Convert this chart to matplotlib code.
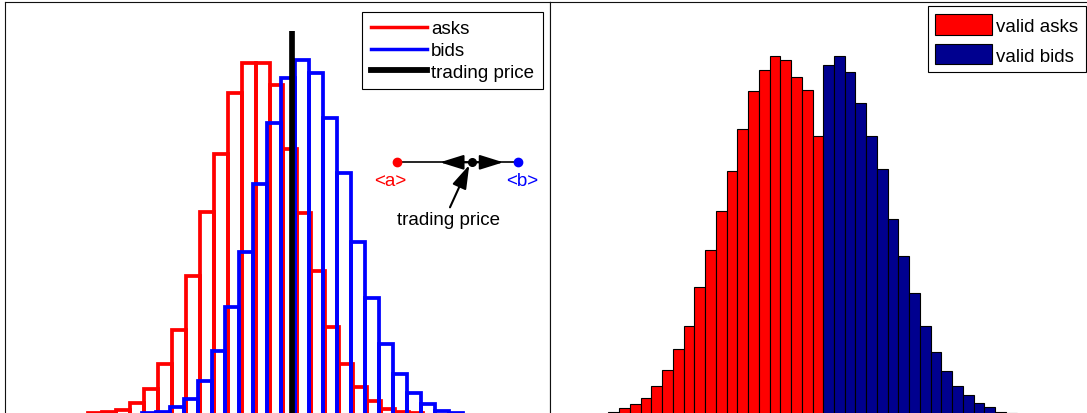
import numpy as np
import matplotlib
matplotlib.use("Agg")
import matplotlib.pyplot as plt
from matplotlib.lines import Line2D
from matplotlib.patches import Patch

plt.rcParams['font.family'] = ['Liberation Sans', 'DejaVu Sans']

# left panel: all asks / bids (bin width 1, counts)
ask_start = 6.0
ask_counts = [3, 4, 6, 13, 27, 52, 86, 140, 204, 262, 323, 353,
              353, 331, 267, 203, 145, 89, 52, 29, 15, 7, 4, 3]
bid_start = 9.84
bid_counts = [3, 4, 9, 17, 35, 65, 109, 164, 232, 293, 338, 356,
              343, 298, 243, 174, 118, 72, 42, 23, 12, 5, 3, 2]
trading_price = 20.61
price_line_top = 385

# right panel: valid asks / bids
valid_start = 5.49
valid_ask_counts = [4, 8, 12, 18, 30, 46, 67, 90, 129, 166, 205, 245,
                    287, 325, 346, 360, 356, 339, 326, 280]
valid_bid_counts = [351, 360, 344, 313, 280, 247, 197, 160, 123, 90,
                    64, 45, 30, 21, 13, 9, 4, 3]

YTOP = 414.8
FS = 13.5
NAVY = '#00008F'

fig = plt.figure(figsize=(10.87, 4.14), dpi=100)
ax1 = fig.add_axes([0.00414, -0.00845, 0.50138, 1.00193])
ax2 = fig.add_axes([0.50552, -0.00845, 0.50230, 1.00193])

for ax in (ax1, ax2):
    ax.set_xticks([])
    ax.set_yticks([])
    for s in ax.spines.values():
        s.set_linewidth(0.8)
        s.set_color('#111111')
    ax.set_ylim(0, YTOP)

# ---- left
xa = ask_start + np.arange(len(ask_counts))
xb = bid_start + np.arange(len(bid_counts))
ax1.bar(xa, ask_counts, width=1.0, align='edge', fill=False,
        edgecolor='#ff0000', linewidth=2.7, joinstyle='miter')
ax1.bar(xb, bid_counts, width=1.0, align='edge', fill=False,
        edgecolor='#0000ff', linewidth=2.7, joinstyle='miter')
ax1.plot([trading_price, trading_price], [0, price_line_top],
         color='k', linewidth=4.1, solid_capstyle='butt')
ax1.set_xlim(0, 39.07)

handles = [Line2D([], [], color='#ff0000', lw=2.5),
           Line2D([], [], color='#0000ff', lw=2.5),
           Line2D([], [], color='k', lw=4.2)]
leg = ax1.legend(handles, ['asks', 'bids', 'trading price'],
                 loc='upper right', bbox_to_anchor=(0.9875, 0.9759),
                 borderaxespad=0, fontsize=FS, fancybox=False,
                 framealpha=1, edgecolor='k', handlelength=2.99,
                 handletextpad=0.25, labelspacing=0.25, borderpad=0.45)
leg.get_frame().set_linewidth(0.8)

# small sketch: ask, bid and trading price between them
T = ax1.transAxes
ax1.plot([0.7196, 0.9417], [0.6128, 0.6128], color='k', lw=1.2, transform=T)
ax1.plot([0.7196], [0.6128], 'o', color='#ff0000', ms=6, transform=T)
ax1.plot([0.9417], [0.6128], 'o', color='#0000ff', ms=6, transform=T)
ax1.plot([0.8572], [0.6143], 'o', color='k', ms=5.5, transform=T)
arr = dict(arrowstyle='-|>,head_length=0.8,head_width=0.25', color='k',
           lw=1.5, shrinkA=0, shrinkB=0, mutation_scale=18)
ax1.annotate('', xy=(0.7991, 0.6128), xytext=(0.8572, 0.6128),
             xycoords=T, textcoords=T, arrowprops=arr)
ax1.annotate('', xy=(0.9152, 0.6128), xytext=(0.8572, 0.6128),
             xycoords=T, textcoords=T, arrowprops=arr)
ax1.annotate('', xy=(0.8528, 0.6063), xytext=(0.8174, 0.5043),
             xycoords=T, textcoords=T, arrowprops=arr)
ax1.text(0.7086, 0.5685, '<a>', color='#ff0000', fontsize=FS,
         ha='center', va='center', transform=T)
ax1.text(0.9490, 0.5685, '<b>', color='#0000ff', fontsize=FS,
         ha='center', va='center', transform=T)
ax1.text(0.8143, 0.4761, 'trading price', color='k', fontsize=FS,
         ha='center', va='center', transform=T)

# ---- right
xva = valid_start + np.arange(len(valid_ask_counts))
xvb = xva[-1] + 1 + np.arange(len(valid_bid_counts))
ax2.bar(xva, valid_ask_counts, width=1.0, align='edge', color='#ff0000',
        edgecolor='k', linewidth=0.8)
ax2.bar(xvb, valid_bid_counts, width=1.0, align='edge', color=NAVY,
        edgecolor='k', linewidth=0.8)
ax2.set_xlim(0, 50.84)

phandles = [Patch(facecolor='#ff0000', edgecolor='k', lw=0.8),
            Patch(facecolor=NAVY, edgecolor='k', lw=0.8)]
leg2 = ax2.legend(phandles, ['valid asks', 'valid bids'],
                  loc='upper left', bbox_to_anchor=(0.6924, 0.9889),
                  borderaxespad=0, fontsize=FS, fancybox=False,
                  framealpha=1, edgecolor='k', handlelength=3.0,
                  handleheight=1.3, handletextpad=0.25,
                  labelspacing=0.5, borderpad=0.42)
leg2.get_frame().set_linewidth(0.8)

fig.savefig('out.png', dpi=100)
